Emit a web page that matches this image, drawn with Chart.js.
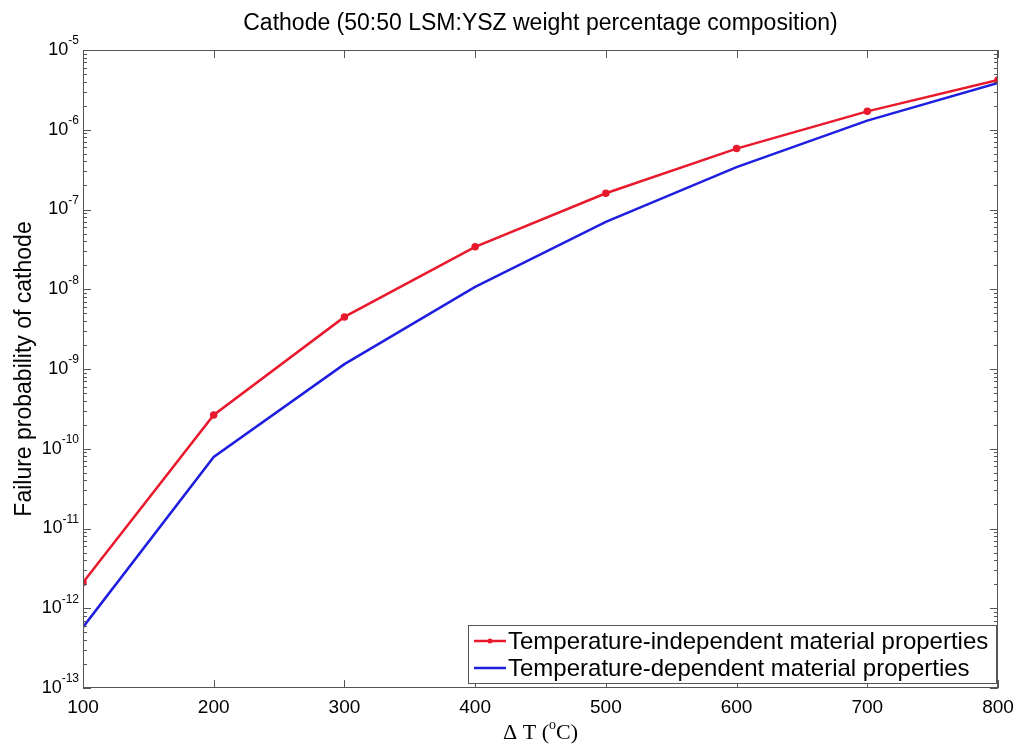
<!DOCTYPE html>
<html>
<head>
<meta charset="utf-8">
<script src="https://cdn.jsdelivr.net/npm/chart.js@4/dist/chart.umd.min.js"></script>
<style>
  html, body { margin: 0; padding: 0; background: #fff; }
  #wrap { width: 1019px; height: 745px; }
</style>
</head>
<body>
<div id="wrap"><canvas id="pf-chart"></canvas></div>
<script>
// delta T in degrees C
var deltaT = [100, 200, 300, 400, 500, 600, 700, 800];
// failure probability
var pfIndependent = [2.1e-12, 2.65e-10, 4.5e-9, 3.4e-8, 1.6e-7, 5.8e-7, 1.7e-6, 4.2e-6];
var pfDependent = [5.8e-13, 7.9e-11, 1.15e-9, 1.07e-8, 7.0e-8, 3.4e-7, 1.3e-6, 3.85e-6];
var yExponents = [-13, -12, -11, -10, -9, -8, -7, -6, -5];
var xTicks = [100, 200, 300, 400, 500, 600, 700, 800];

var RED = '#e8192c';
var BLUE = '#1e1ee0';
var AXIS = '#555555';
var SANS = '"Liberation Sans", Arial, sans-serif';
var SERIF = '"Liberation Serif", "Times New Roman", serif';

function pts(ys) {
    return deltaT.map(function (x, i) { return { x: x, y: ys[i] }; });
}

var matlabLook = {
    id: 'matlabLook',
    beforeDraw: function (chart) {
        var c = chart.ctx;
        c.save();
        c.fillStyle = '#fff';
        c.fillRect(0, 0, chart.width, chart.height);
        c.restore();
    },
    afterDraw: function (chart) {
        var c = chart.ctx;
        var a = chart.chartArea;
        var xs = chart.scales.x, ys = chart.scales.y;
        c.save();

        // box
        c.strokeStyle = AXIS;
        c.lineWidth = 1;
        c.strokeRect(a.left + 0.5, a.top + 0.5, a.right - a.left - 1, a.bottom - a.top - 1);

        // x ticks, bottom and top, pointing in
        c.beginPath();
        xTicks.forEach(function (v) {
            var px = Math.round(xs.getPixelForValue(v)) + 0.5;
            c.moveTo(px, a.bottom); c.lineTo(px, a.bottom - 8);
            c.moveTo(px, a.top); c.lineTo(px, a.top + 8);
        });
        // y ticks, major and minor, left and right
        yExponents.forEach(function (e) {
            for (var m = 1; m <= 9; m++) {
                if (e === yExponents[yExponents.length - 1] && m > 1) break;
                var py = Math.round(ys.getPixelForValue(m * Math.pow(10, e))) + 0.5;
                var len = m === 1 ? 8 : 4;
                c.moveTo(a.left, py); c.lineTo(a.left + len, py);
                c.moveTo(a.right, py); c.lineTo(a.right - len, py);
            }
        });
        c.stroke();

        // y tick labels 10^e
        c.fillStyle = '#000';
        c.textBaseline = 'middle';
        c.textAlign = 'left';
        yExponents.forEach(function (e) {
            var py = ys.getPixelForValue(Math.pow(10, e));
            c.font = '18px ' + SANS;
            var w10 = c.measureText('10').width;
            c.font = '12px ' + SANS;
            var we = c.measureText(String(e)).width;
            var x0 = 79 - w10 - we;
            c.font = '18px ' + SANS;
            c.fillText('10', x0, py);
            c.font = '12px ' + SANS;
            c.fillText(String(e), x0 + w10, py - 9);
        });

        // title
        c.textAlign = 'center';
        c.font = '23px ' + SANS;
        c.fillText('Cathode (50:50 LSM:YSZ weight percentage composition)', (a.left + a.right) / 2, 24);

        // y title
        c.save();
        c.translate(25, (a.top + a.bottom) / 2);
        c.rotate(-Math.PI / 2);
        c.fillText('Failure probability of cathode', 0, 0);
        c.restore();

        // x title: \Delta T (^oC)
        var p1 = '\u0394 T (', p2 = 'o', p3 = 'C)';
        c.font = '22px ' + SERIF;
        var w1 = c.measureText(p1).width, w3 = c.measureText(p3).width;
        c.font = '14px ' + SERIF;
        var w2 = c.measureText(p2).width;
        var xt = (a.left + a.right) / 2 - (w1 + w2 + w3) / 2;
        var yt = 733;
        c.textAlign = 'left';
        c.font = '22px ' + SERIF;
        c.fillText(p1, xt, yt);
        c.font = '14px ' + SERIF;
        c.fillText(p2, xt + w1, yt - 8);
        c.font = '22px ' + SERIF;
        c.fillText(p3, xt + w1 + w2, yt);

        // legend box in lower right
        var lx = 468, ly = 625, lw = 528, lh = 58;
        c.fillStyle = '#fff';
        c.fillRect(lx, ly, lw, lh);
        c.strokeStyle = AXIS;
        c.strokeRect(lx + 0.5, ly + 0.5, lw, lh);
        chart.data.datasets.forEach(function (ds, i) {
            var ry = ly + 16 + i * 27;
            c.strokeStyle = ds.borderColor;
            c.lineWidth = 2.5;
            c.beginPath();
            c.moveTo(lx + 6, ry); c.lineTo(lx + 38, ry);
            c.stroke();
            if (ds.pointRadius > 0) {
                c.fillStyle = ds.borderColor;
                c.beginPath();
                c.arc(lx + 22, ry, 2.5, 0, Math.PI * 2);
                c.fill();
            }
            c.fillStyle = '#000';
            c.font = '24px ' + SANS;
            c.textBaseline = 'middle';
            c.fillText(ds.label, lx + 40, ry + 1);
        });

        c.restore();
    }
};

var ctx = document.getElementById('pf-chart').getContext('2d');
var chart = new Chart(ctx, {
    type: 'line',
    data: {
        datasets: [{
            label: 'Temperature-independent material properties',
            data: pts(pfIndependent),
            borderColor: RED,
            backgroundColor: RED,
            borderWidth: 2.5,
            pointRadius: 2.5,
            pointHoverRadius: 2.5,
            tension: 0
        }, {
            label: 'Temperature-dependent material properties',
            data: pts(pfDependent),
            borderColor: BLUE,
            backgroundColor: BLUE,
            borderWidth: 2.5,
            pointRadius: 0,
            tension: 0
        }]
    },
    options: {
        responsive: true,
        maintainAspectRatio: false,
        animation: false,
        events: [],
        layout: { padding: { top: 50, right: 21, left: 0, bottom: 0 } },
        plugins: {
            legend: { display: false },
            title: { display: false },
            tooltip: { enabled: false }
        },
        scales: {
            x: {
                type: 'linear',
                min: 100,
                max: 800,
                border: { display: false },
                grid: { display: false },
                ticks: {
                    stepSize: 100,
                    padding: 0,
                    color: '#000',
                    maxRotation: 0,
                    font: { size: 19, family: SANS }
                },
                afterFit: function (s) { s.height = 57; }
            },
            y: {
                type: 'logarithmic',
                min: 1e-13,
                max: 1e-5,
                border: { display: false },
                grid: { display: false },
                ticks: { display: false },
                afterFit: function (s) { s.width = 83; }
            }
        }
    },
    plugins: [matlabLook]
});
</script>
</body>
</html>
